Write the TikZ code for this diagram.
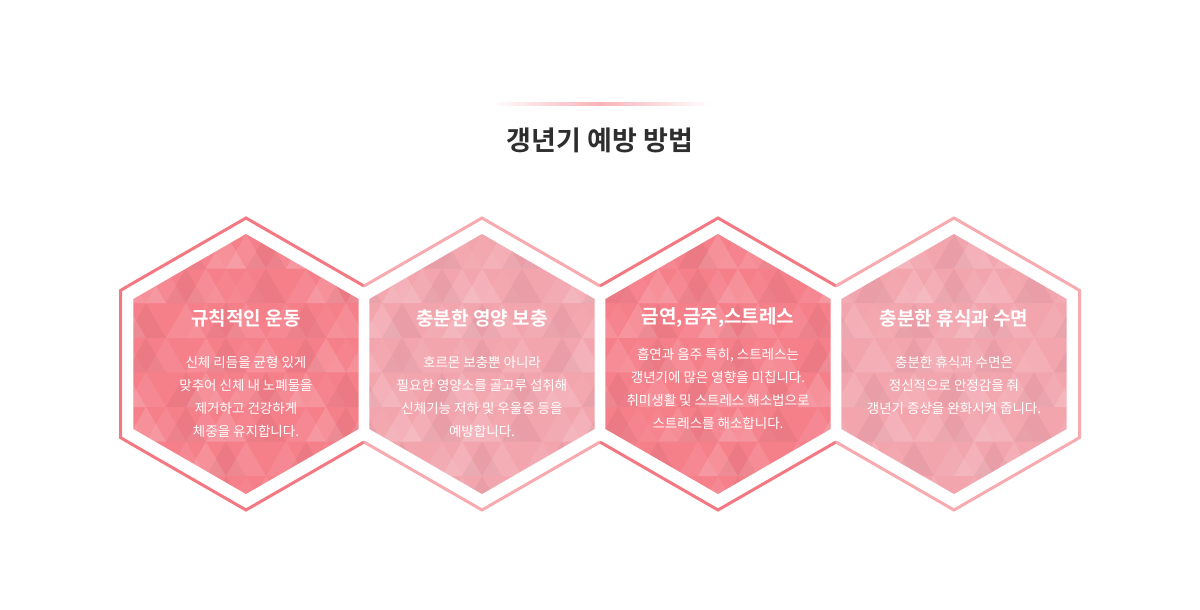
\documentclass[tikz,border=0pt]{standalone}
\usepackage{fontspec}
\setmainfont{Noto Sans CJK KR}
\newfontfamily\kb{Noto Sans CJK KR Bold}
\begin{document}
\begin{tikzpicture}[x=1pt,y=-1pt,
  ttl/.style={font=\kb\fontsize{19}{22}\selectfont,text=white},
  bdy/.style={font=\fontsize{13.5}{23}\selectfont,text=white,align=center}]
\definecolor{cA}{HTML}{F5808A}\definecolor{cB}{HTML}{F3A5AE}
\definecolor{oA}{HTML}{F47881}\definecolor{oB}{HTML}{F7ABB0}
\useasboundingbox (0,0) rectangle (1200,610);
\fill[white] (0,0) rectangle (1200,610);
% title line
\shade[left color=white,right color=oB!90] (490,102.5) rectangle (600,105.5);
\shade[right color=white,left color=oB!90] (600,102.5) rectangle (710,105.5);
\node[font=\kb\fontsize{27}{30}\selectfont,text=black!82] (title) at (600,140) {갱년기 예방 방법};
% hexes
\foreach \c/\f/\o [count=\i] in {246/cA/oA,482/cB/oB,718/cA/oA,954/cB/oB}{
  \begin{scope}
    \clip (\c,234) -- (\c+112.6,299) -- (\c+112.6,429) -- (\c,494) -- (\c-112.6,429) -- (\c-112.6,299) -- cycle;
    \fill[\f] (\c-120,230) rectangle (\c+120,500);
    \foreach \r in {0,...,7}{
      \foreach \k in {-7,...,7}{
        \pgfmathsetmacro{\op}{mod(abs(\k*7+\r*5+\i*3),5)*0.035}
        \pgfmathtruncatemacro{\dk}{mod(abs(\k*3+\r*11+\i),4)}
        \pgfmathsetmacro{\y}{234+\r*34.6}
        \pgfmathsetmacro{\xx}{\c+\k*20+mod(\r,2)*20}
        \ifnum\dk=0
          \fill[black,opacity=0.04] (\xx,\y) -- (\xx+20,\y+34.6) -- (\xx-20,\y+34.6) -- cycle;
        \else
          \fill[white,opacity=\op] (\xx,\y) -- (\xx+20,\y+34.6) -- (\xx-20,\y+34.6) -- cycle;
        \fi
      }
    }
  \end{scope}
  \draw[\o,line width=3pt,line join=miter] (\c-118,286) -- (\c,218) -- (\c+118,286);
  \draw[\o,line width=3pt,line join=miter] (\c-118,442) -- (\c,510) -- (\c+118,442);
}
\draw[oA,line width=3pt] (128,286) -- (120.5,290.5) -- (120.5,437.5) -- (128,442);
\draw[oB,line width=3pt] (1072,286) -- (1079.5,290.5) -- (1079.5,437.5) -- (1072,442);
% texts
\node[ttl] (t1) at (246,318) {규칙적인 운동};
\node[bdy] (b1) at (246,397) {신체 리듬을 균형 있게\\맞추어 신체 내 노폐물을\\제거하고 건강하게\\체중을 유지합니다.};
\node[ttl] (t2) at (482,318) {충분한 영양 보충};
\node[bdy] (b2) at (482,397) {호르몬 보충뿐 아니라\\필요한 영양소를 골고루 섭취해\\신체기능 저하 및 우울증 등을\\예방합니다.};
\node[ttl] (t3) at (718,318) {금연,금주,스트레스};
\node[bdy] (b3) at (718,389) {흡연과 음주 특히, 스트레스는\\갱년기에 많은 영향을 미칩니다.\\취미생활 및 스트레스 해소법으로\\스트레스를 해소합니다.};
\node[ttl] (t4) at (954,318) {충분한 휴식과 수면};
\node[bdy] (b4) at (954,385) {충분한 휴식과 수면은\\정신적으로 안정감을 줘\\갱년기 증상을 완화시켜 줍니다.};
\end{tikzpicture}
\end{document}
